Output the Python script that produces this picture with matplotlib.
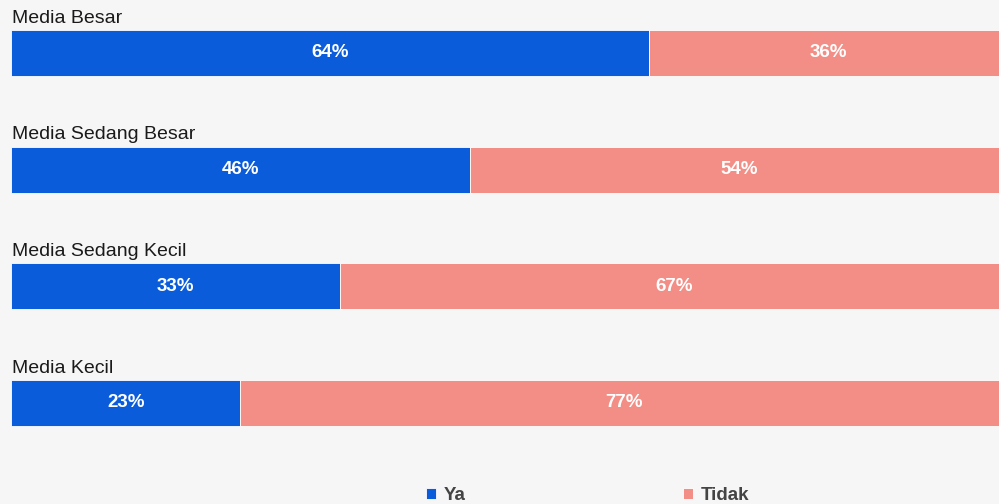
import matplotlib.pyplot as plt

plt.rcParams['font.family'] = ['Liberation Sans', 'DejaVu Sans']

# Share of respondents answering Ya / Tidak, by media size
categories = ['Media Besar', 'Media Sedang Besar', 'Media Sedang Kecil', 'Media Kecil']
ya = [64, 46, 33, 23]
tidak = [36, 54, 67, 77]

BLUE = '#0b5cdb'
SALMON = '#f28e86'
BG = '#f6f6f6'

fig = plt.figure(figsize=(9.99, 5.04), dpi=100, facecolor=BG)
ax = fig.add_axes([0, 0, 1, 1])
ax.set_facecolor(BG)

pos = list(range(len(categories)))
h = 0.394
b1 = ax.barh(pos, ya, height=h, color=BLUE, edgecolor='white', linewidth=0.6, label='Ya')
b2 = ax.barh(pos, tidak, left=ya, height=h, color=SALMON, edgecolor='white', linewidth=0.6, label='Tidak')

# values inside each segment
for i in pos:
    ax.text(ya[i] / 2, i, f'{ya[i]}%', ha='center', va='center',
            color='white', fontsize=13.5, fontweight='bold')
    ax.text(ya[i] + tidak[i] / 2, i, f'{tidak[i]}%', ha='center', va='center',
            color='white', fontsize=13.5, fontweight='bold')

# category name above each bar
for i, name in enumerate(categories):
    ax.annotate(name, xy=(0, i - h / 2), xytext=(1, 2.5), textcoords='offset points',
                ha='left', va='bottom', fontsize=14, color='#1a1a1a')

# the bars run slightly past the right edge
scale = 9.97
ax.set_xlim(-11 / scale, (999 - 11) / scale)
ax.set_ylim(3.866, -0.454)
ax.axis('off')

leg = ax.legend(handles=[b1, b2], loc='center', bbox_to_anchor=(0.588, 0.017),
                bbox_transform=fig.transFigure, ncol=2, frameon=False,
                handlelength=0.55, handleheight=0.55, handletextpad=0.4,
                columnspacing=11.6, borderpad=0.1,
                prop={'size': 13.5, 'weight': 'bold'})
for t in leg.get_texts():
    t.set_color('#444444')

fig.savefig('out.png', dpi=100, facecolor=BG)
